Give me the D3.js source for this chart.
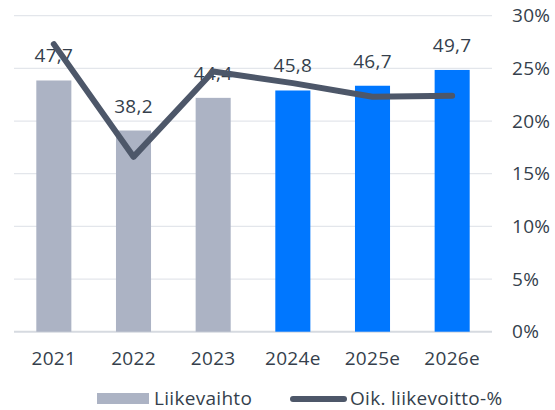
<!DOCTYPE html>
<html>
<head>
<meta charset="utf-8">
<script src="https://cdn.jsdelivr.net/npm/d3@7"></script>
<style>
  body { margin: 0; background: #fff; }
  svg text { font-family: "Open Sans", sans-serif; fill: #353f4c; letter-spacing: 0.3px; }
</style>
</head>
<body>
<svg class="svgChart"></svg>
<script>
// chart data
var years = ['2021', '2022', '2023', '2024e', '2025e', '2026e'];
var revenue = [47.7, 38.2, 44.4, 45.8, 46.7, 49.7];
var revenueLabels = ['47,7', '38,2', '44,4', '45,8', '46,7', '49,7'];
var margin = [27.3, 16.6, 24.7, 23.6, 22.3, 22.4];
var estimate = [false, false, false, true, true, true];
var pctTicks = [0, 5, 10, 15, 20, 25, 30];

var W = 555, H = 410;
var plot = { left: 14, right: 492, top: 15.7, bottom: 331.7 };

var svg = d3.select('.svgChart')
  .attr('width', W)
  .attr('height', H);

var xScale = d3.scaleBand()
  .domain(years)
  .range([plot.left, plot.right])
  .paddingInner(0.56)
  .paddingOuter(0.28);

var yLeft = d3.scaleLinear()
  .domain([0, 60])
  .range([plot.bottom, plot.top]);

var yRight = d3.scaleLinear()
  .domain([0, 30])
  .range([plot.bottom, plot.top]);

// gridlines
svg.append('g')
  .selectAll('line')
  .data(pctTicks)
  .enter()
  .append('line')
    .attr('x1', plot.left)
    .attr('x2', plot.right)
    .attr('y1', d => yRight(d))
    .attr('y2', d => yRight(d))
    .attr('stroke', d => d === 0 ? '#d6dae0' : '#e3e6eb')
    .attr('stroke-width', d => d === 0 ? 2 : 1.2);

// right axis labels
svg.append('g')
  .selectAll('text')
  .data(pctTicks)
  .enter()
  .append('text')
    .attr('x', 512)
    .attr('y', d => yRight(d))
    .attr('dy', '0.35em')
    .attr('font-size', 19)
    .text(d => d + '%');

// bars
svg.append('g')
  .selectAll('rect')
  .data(years)
  .enter()
  .append('rect')
    .attr('x', d => xScale(d))
    .attr('width', xScale.bandwidth())
    .attr('y', (d, i) => yLeft(revenue[i]))
    .attr('height', (d, i) => plot.bottom - yLeft(revenue[i]))
    .attr('fill', (d, i) => estimate[i] ? '#0077ff' : '#acb3c4');

// value labels
svg.append('g')
  .selectAll('text')
  .data(years)
  .enter()
  .append('text')
    .attr('x', d => xScale(d) + xScale.bandwidth() / 2)
    .attr('y', (d, i) => yLeft(revenue[i]) - 18)
    .attr('text-anchor', 'middle')
    .attr('font-size', 19)
    .text((d, i) => revenueLabels[i]);

// margin line
var line = d3.line()
  .x(d => xScale(d.year) + xScale.bandwidth() / 2)
  .y(d => yRight(d.value));

svg.append('path')
  .datum(years.map((y, i) => ({ year: y, value: margin[i] })))
  .attr('d', line)
  .attr('fill', 'none')
  .attr('stroke', '#4d5769')
  .attr('stroke-width', 6)
  .attr('stroke-linecap', 'round')
  .attr('stroke-linejoin', 'round');

// x labels
svg.append('g')
  .selectAll('text')
  .data(years)
  .enter()
  .append('text')
    .attr('x', d => xScale(d) + xScale.bandwidth() / 2)
    .attr('y', 365)
    .attr('text-anchor', 'middle')
    .attr('font-size', 19)
    .text(d => d);

// legend
var legend = svg.append('g');
legend.append('rect')
  .attr('x', 97)
  .attr('y', 393)
  .attr('width', 52)
  .attr('height', 11)
  .attr('fill', '#acb3c4');
legend.append('text')
  .attr('x', 154)
  .attr('y', 405)
  .attr('font-size', 19)
  .text('Liikevaihto');
legend.append('line')
  .attr('x1', 293)
  .attr('x2', 344)
  .attr('y1', 399)
  .attr('y2', 399)
  .attr('stroke', '#4d5769')
  .attr('stroke-width', 6)
  .attr('stroke-linecap', 'round');
legend.append('text')
  .attr('x', 350)
  .attr('y', 405)
  .attr('font-size', 19)
  .text('Oik. liikevoitto-%');
</script>
</body>
</html>
